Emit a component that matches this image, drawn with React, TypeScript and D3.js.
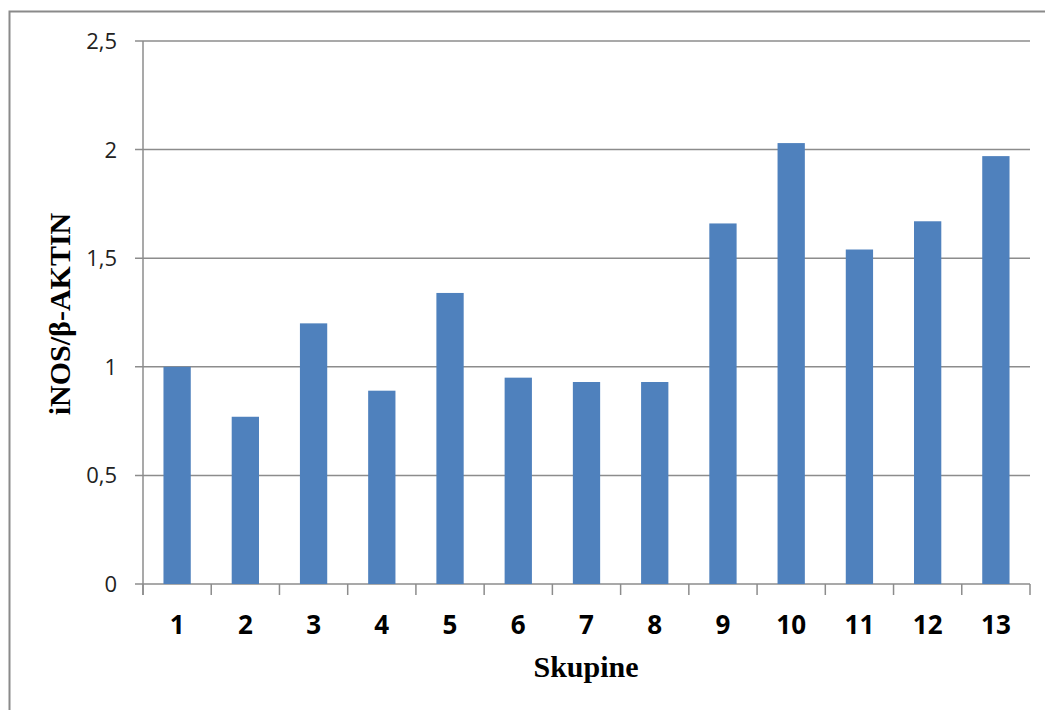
import React from "react";
import * as d3 from "d3";

const categories = ["1", "2", "3", "4", "5", "6", "7", "8", "9", "10", "11", "12", "13"];
const values = [1.0, 0.77, 1.2, 0.89, 1.34, 0.95, 0.93, 0.93, 1.66, 2.03, 1.54, 1.67, 1.97];
const yTicks = [0, 0.5, 1, 1.5, 2, 2.5];
const yTickLabels = ["0", "0,5", "1", "1,5", "2", "2,5"];
const yTitle = "iNOS/β-AKTIN";
const xTitle = "Skupine";

const W = 1045;
const H = 710;
const left = 143;
const right = 1030;
const top = 41;
const bottom = 584;

export default function App() {
  const x = d3.scaleBand<string>().domain(categories).range([left, right]).paddingInner(0.6).paddingOuter(0.3);
  const xb = d3.scaleBand<string>().domain(categories).range([left, right]);
  const y = d3.scaleLinear().domain([0, 2.5]).range([bottom, top]);
  const grid = "#8c8c8c";
  const boundaries = categories.map((c) => xb(c) as number).concat([right]);

  return (
    <svg width={W} height={H} style={{ position: "absolute", left: 0, top: 0, background: "#fff" }}>
      <rect x={9.5} y={11.5} width={W + 20} height={H + 20} fill="#fff" stroke="#8a8a8a" strokeWidth={2} />
      {yTicks.map((t, i) => (
        <g key={t}>
          <line x1={135} x2={right} y1={y(t)} y2={y(t)} stroke={grid} strokeWidth={1.5} />
          <text
            x={117}
            y={y(t)}
            dy="0.36em"
            textAnchor="end"
            fontFamily="'Open Sans', sans-serif"
            fontSize={22}
            fill="#222"
          >
            {yTickLabels[i]}
          </text>
        </g>
      ))}
      <line x1={left} x2={left} y1={top} y2={595} stroke={grid} strokeWidth={1.5} />
      {boundaries.map((bx, i) => (
        <line key={i} x1={bx} x2={bx} y1={bottom} y2={595} stroke={grid} strokeWidth={1.5} />
      ))}
      {categories.map((c, i) => (
        <rect
          key={c}
          x={(xb(c) as number) + xb.bandwidth() / 2 - xb.bandwidth() * 0.2}
          width={xb.bandwidth() * 0.4}
          y={y(values[i])}
          height={bottom - y(values[i])}
          fill="#4F81BD"
        />
      ))}
      {categories.map((c) => (
        <text
          key={c}
          x={(xb(c) as number) + xb.bandwidth() / 2}
          y={634}
          textAnchor="middle"
          fontFamily="'Open Sans', sans-serif"
          fontWeight="bold"
          fontSize={26}
          fill="#000"
        >
          {c}
        </text>
      ))}
      <text
        transform={`translate(70, 314) rotate(-90)`}
        textAnchor="middle"
        fontFamily="'Liberation Serif', 'Times New Roman', serif"
        fontWeight="bold"
        fontSize={30}
        fill="#000"
      >
        {yTitle}
      </text>
      <text
        x={586}
        y={677}
        textAnchor="middle"
        fontFamily="'Liberation Serif', 'Times New Roman', serif"
        fontWeight="bold"
        fontSize={30}
        fill="#000"
      >
        {xTitle}
      </text>
    </svg>
  );
}
